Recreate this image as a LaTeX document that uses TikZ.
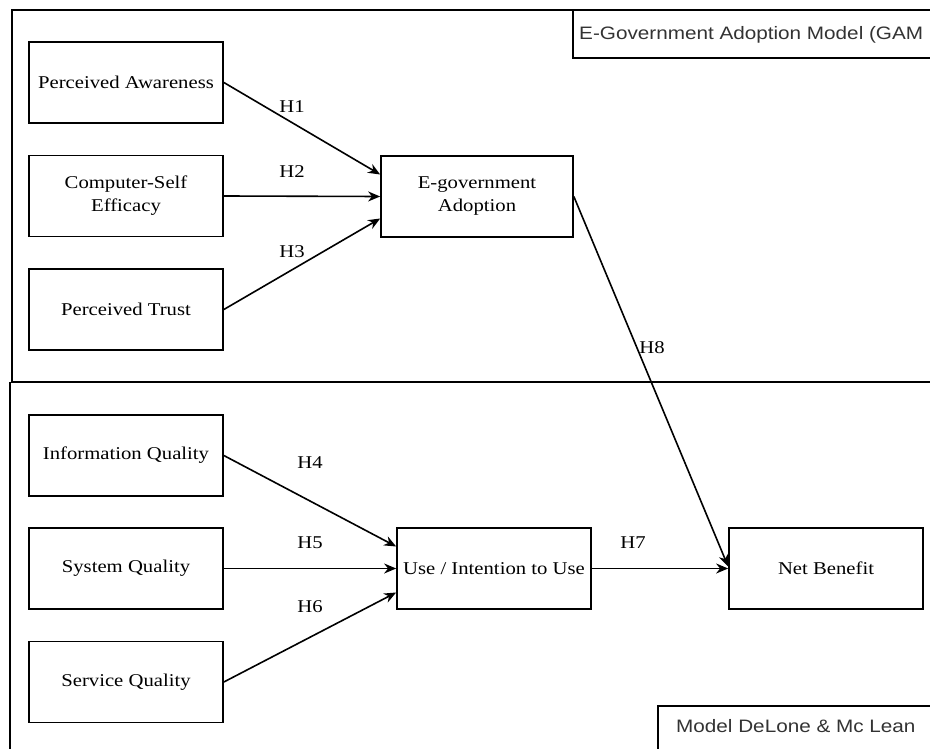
\documentclass[tikz,border=0pt]{standalone}
\usepackage{fontspec}
\setmainfont{Liberation Serif}[FakeStretch=1.15]
\setsansfont{Liberation Sans}[FakeStretch=1.15]
\usetikzlibrary{calc,arrows.meta}

\begin{document}
\begin{tikzpicture}[x=1pt, y=-1pt,
  construct/.style={draw, line width=1.7pt, minimum width=194pt, minimum height=81pt, align=center, inner sep=0pt, font=\fontsize{18}{23}\selectfont},
  hyp/.style={font=\fontsize{18}{23}\selectfont, inner sep=1pt},
  path/.style={line width=1.6pt, -{Stealth[length=12pt, width=10pt]}},
  frame/.style={line width=1.8pt},
  tag/.style={font=\sffamily\fontsize{18}{22}\selectfont, anchor=west, inner sep=0pt, text=black!80}]
  \useasboundingbox (0,0) rectangle (930,749);
  \fill[white] (0,0) rectangle (930,749);
  % Model frames
  \draw[frame] (945,10) -- (12,10) -- (12,382) -- (945,382);
  \draw[frame] (10,760) -- (10,382);
  \draw[frame] (945,58) -- (573,58) -- (573,10);
  \draw[frame] (945,706) -- (658,706) -- (658,760);
  \node[tag] (gam) at (579,35) {E-Government Adoption Model (GAM};
  \node[tag] (dm) at (676,726) {Model DeLone \& Mc Lean};
  % GAM constructs
  \node[construct] (pa) at (126,82.5) {Perceived Awareness};
  \node[construct] (cse) at (126,196) {Computer-Self\\Efficacy};
  \node[construct] (pt) at (126,309.5) {Perceived Trust};
  \node[construct, minimum width=192pt] (ea) at (477,196.5) {E-government\\Adoption};
  % DeLone & McLean constructs
  \node[construct] (iq) at (126,455.5) {Information Quality};
  \node[construct] (sq) at (126,568.5) {System Quality};
  \node[construct] (svq) at (126,682) {Service Quality};
  \node[construct] (use) at (494,568.5) {Use / Intention to Use};
  \node[construct] (nb) at (826,568.5) {Net Benefit};
  % Hypotheses
  \draw[path] (pa.east) -- ($(ea.west)+(0,-22)$);
  \draw[path] (cse.east) -- (ea.west);
  \draw[path] (pt.east) -- ($(ea.west)+(0,22)$);
  \draw[path] (iq.east) -- ($(use.west)+(0,-22)$);
  \draw[path] (sq.east) -- (use.west);
  \draw[path] (svq.east) -- ($(use.west)+(0,24)$);
  \draw[path] (use.east) -- (nb.west);
  \draw[path] (ea.east) -- ($(nb.west)+(0,-2)$);
  \node[hyp] (h1) at (292,107) {H1};
  \node[hyp] (h2) at (292,172) {H2};
  \node[hyp] (h3) at (292,252) {H3};
  \node[hyp] (h4) at (310,463) {H4};
  \node[hyp] (h5) at (310,543) {H5};
  \node[hyp] (h6) at (310,607) {H6};
  \node[hyp] (h7) at (633,543) {H7};
  \node[hyp] (h8) at (652,348) {H8};
\end{tikzpicture}
\end{document}
